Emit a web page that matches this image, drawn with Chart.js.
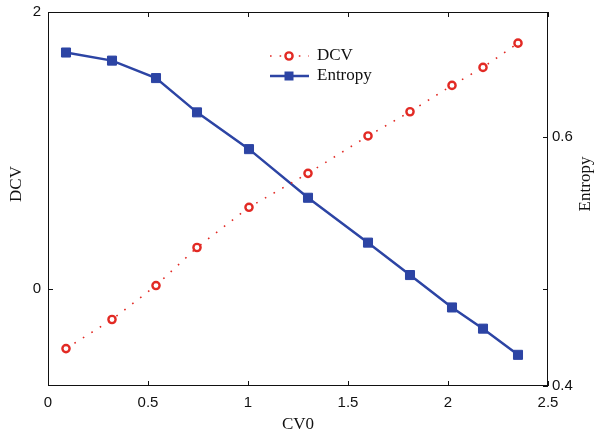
<!DOCTYPE html>
<html>
<head>
<meta charset="utf-8">
<script src="https://cdn.jsdelivr.net/npm/chart.js@4.4.1/dist/chart.umd.min.js"></script>
<style>
  html, body { margin: 0; padding: 0; background: #fff; }
  #wrap { width: 595px; height: 436px; }
</style>
</head>
<body>
<div id="wrap"><canvas id="chart" width="595" height="436"></canvas></div>
<script>
// values
var CV0 = [0.09, 0.32, 0.54, 0.745, 1.005, 1.30, 1.60, 1.81, 2.02, 2.175, 2.35];
var DCV = [-0.43, -0.22, 0.025, 0.30, 0.59, 0.835, 1.105, 1.28, 1.47, 1.60, 1.775];
var ENTROPY = [0.6675, 0.661, 0.647, 0.6195, 0.590, 0.551, 0.515, 0.489, 0.463, 0.446, 0.425];
var X_TICKS = [0, 0.5, 1, 1.5, 2, 2.5];
var DCV_TICKS = [0, 2];
var ENTROPY_TICKS = [0.4, 0.6];
var SERIES_NAMES = ['DCV', 'Entropy'];
var AXIS_TITLES = ['CV0', 'DCV', 'Entropy'];

var RED = 'rgb(226,42,36)';
var BLUE = 'rgb(44,68,164)';
var INK = '#111';
var SANS = '"Liberation Sans", Arial, sans-serif';
var SERIF = '"Liberation Serif", "Times New Roman", serif';

function pairs(xs, ys)
{
  var out = [];
  for (var i = 0; i < xs.length; i++) out.push({x: xs[i], y: ys[i]});
  return out;
}

function fixedTicks(list)
{
  return function(scale) {
    scale.ticks = list.map(function(v){ return {value: v}; });
  };
}

// side axes: fixed width, no extra room above/below for labels
function sideFit(w)
{
  return function(s) {
    s.width = w;
    s.paddingTop = 0;
    s.paddingBottom = 0;
  };
}

// matlab style labels: 1 not 1.0
function plain(v)
{
  return String(Math.round(v * 100) / 100);
}

// box, inward ticks, axis titles and legend, drawn like the matlab figure
var frame = {
  id: 'frame',
  afterDraw: function(chart) {
    var ctx = chart.ctx;
    var a = chart.chartArea;
    var sx = chart.scales.x, sy = chart.scales.y, sy1 = chart.scales.y1;
    var tl = 5;
    ctx.save();
    ctx.strokeStyle = INK;
    ctx.lineWidth = 1;
    ctx.strokeRect(a.left + 0.5, a.top + 0.5, a.right - a.left - 1, a.bottom - a.top - 1);
    ctx.beginPath();
    X_TICKS.forEach(function(v){
      var p = Math.round(sx.getPixelForValue(v)) + 0.5;
      ctx.moveTo(p, a.bottom); ctx.lineTo(p, a.bottom - tl);
      ctx.moveTo(p, a.top); ctx.lineTo(p, a.top + tl);
    });
    DCV_TICKS.forEach(function(v){
      var p = Math.round(sy.getPixelForValue(v)) + 0.5;
      ctx.moveTo(a.left, p); ctx.lineTo(a.left + tl, p);
      ctx.moveTo(a.right, p); ctx.lineTo(a.right - tl, p);
    });
    ENTROPY_TICKS.forEach(function(v){
      var p = Math.round(sy1.getPixelForValue(v)) + 0.5;
      ctx.moveTo(a.right, p); ctx.lineTo(a.right - tl, p);
    });
    ctx.stroke();

    // axis titles
    ctx.fillStyle = INK;
    ctx.font = '17px ' + SERIF;
    ctx.textAlign = 'center';
    ctx.textBaseline = 'middle';
    ctx.fillText(AXIS_TITLES[0], (a.left + a.right) / 2, 425);
    ctx.save();
    ctx.translate(17, 184);
    ctx.rotate(-Math.PI / 2);
    ctx.fillText(AXIS_TITLES[1], 0, 0);
    ctx.restore();
    ctx.save();
    ctx.translate(586, 184);
    ctx.rotate(-Math.PI / 2);
    ctx.fillText(AXIS_TITLES[2], 0, 0);
    ctx.restore();

    // legend
    var lx = 270, mx = 289, rx = 309, tx = 317;
    var r1 = 56, r2 = 76;
    ctx.strokeStyle = RED;
    ctx.lineWidth = 1.6;
    ctx.setLineDash([1.6, 8]);
    ctx.beginPath();
    ctx.moveTo(lx, r1); ctx.lineTo(rx, r1);
    ctx.stroke();
    ctx.setLineDash([]);
    ctx.lineWidth = 2.4;
    ctx.fillStyle = '#fff';
    ctx.beginPath();
    ctx.arc(mx, r1, 3.6, 0, Math.PI * 2);
    ctx.fill(); ctx.stroke();
    ctx.strokeStyle = BLUE;
    ctx.lineWidth = 2.5;
    ctx.beginPath();
    ctx.moveTo(lx, r2); ctx.lineTo(rx, r2);
    ctx.stroke();
    ctx.fillStyle = BLUE;
    ctx.fillRect(mx - 4.5, r2 - 4.5, 9, 9);
    ctx.fillStyle = INK;
    ctx.font = '17px ' + SERIF;
    ctx.textAlign = 'left';
    ctx.fillText(SERIES_NAMES[0], tx, r1);
    ctx.fillText(SERIES_NAMES[1], tx, r2);
    ctx.restore();
  }
};

var ctx = document.getElementById('chart');
var myChart = new Chart(ctx, {
  type: 'line',
  data: {
    datasets: [
      {
        label: SERIES_NAMES[0],
        data: pairs(CV0, DCV),
        yAxisID: 'y',
        borderColor: RED,
        borderWidth: 1.6,
        borderDash: [1.6, 8.4],
        pointStyle: 'circle',
        pointRadius: 3.6,
        pointBorderWidth: 2.4,
        pointBackgroundColor: '#fff',
        pointBorderColor: RED,
        tension: 0
      },
      {
        label: SERIES_NAMES[1],
        data: pairs(CV0, ENTROPY),
        yAxisID: 'y1',
        borderColor: BLUE,
        borderWidth: 2.5,
        pointStyle: 'rect',
        pointRadius: 6.4,
        pointBorderWidth: 1,
        pointBackgroundColor: BLUE,
        pointBorderColor: BLUE,
        tension: 0
      }
    ]
  },
  options: {
    responsive: false,
    animation: false,
    layout: { padding: { top: 12, left: 0, right: 0, bottom: 0 } },
    plugins: { legend: { display: false }, tooltip: { enabled: false } },
    scales: {
      x: {
        type: 'linear',
        min: 0, max: 2.5,
        afterBuildTicks: fixedTicks(X_TICKS),
        afterFit: function(s){ s.height = 50; },
        grid: { display: false, drawTicks: false },
        border: { display: false },
        ticks: { padding: 8, color: INK, font: { family: SANS, size: 15 }, maxRotation: 0, callback: plain }
      },
      y: {
        position: 'left',
        min: -0.7, max: 2,
        afterBuildTicks: fixedTicks(DCV_TICKS),
        afterFit: sideFit(48),
        grid: { display: false, drawTicks: false },
        border: { display: false },
        ticks: { padding: 7, color: INK, font: { family: SANS, size: 15 }, callback: plain }
      },
      y1: {
        position: 'right',
        min: 0.4, max: 0.7,
        afterBuildTicks: fixedTicks(ENTROPY_TICKS),
        afterFit: sideFit(47),
        grid: { display: false, drawTicks: false },
        border: { display: false },
        ticks: { padding: 4, color: INK, font: { family: SANS, size: 15 }, callback: plain }
      }
    }
  },
  plugins: [frame]
});
</script>
</body>
</html>
